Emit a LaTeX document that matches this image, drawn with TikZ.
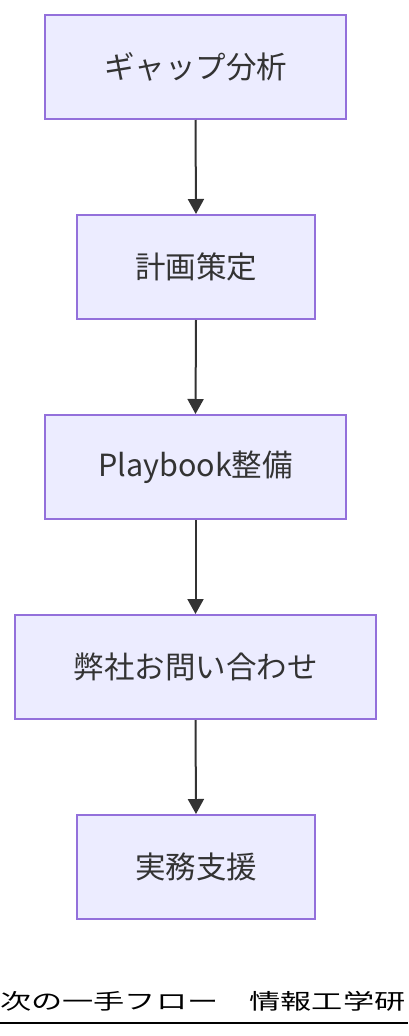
\documentclass[tikz,border=0pt]{standalone}
\usepackage{fontspec}
\setmainfont{Noto Sans CJK JP}
\usetikzlibrary{arrows.meta}
\definecolor{boxfill}{HTML}{ECECFF}
\definecolor{boxline}{HTML}{9370DB}
\definecolor{ink}{HTML}{333333}
\tikzset{
  stepbox/.style={draw=boxline, fill=boxfill, line width=2pt, minimum height=104pt,
    inner sep=0pt, text=ink, font=\fontsize{30.5}{33}\selectfont},
  flow/.style={draw=ink, line width=2pt, -{Triangle[length=15pt,width=16pt]}, shorten >=0pt}
}
\begin{document}
\begin{tikzpicture}[x=1pt,y=-1pt]
\useasboundingbox (0,0) rectangle (408,1036);
\node[stepbox, minimum width=301pt] (a) at (195.5,67) {ギャップ分析};
\node[stepbox, minimum width=238pt] (b) at (196,267) {計画策定};
\node[stepbox, minimum width=301pt] (c) at (195.5,467) {Playbook整備};
\node[stepbox, minimum width=361pt] (d) at (195.5,667) {弊社お問い合わせ};
\node[stepbox, minimum width=238pt] (e) at (196,867) {実務支援};
\draw[flow] (a.south) -- (b.north);
\draw[flow] (b.south) -- (c.north);
\draw[flow] (c.south) -- (d.north);
\draw[flow] (d.south) -- (e.north);
\node[anchor=west, inner sep=0pt, text=black] (t) at (0,1001)
  {\scalebox{1.45}[1]{\fontsize{21.5}{24}\selectfont 次の一手フロー　情報工学研}};
\coordinate (u1) at (0,1023);
\coordinate (u2) at (408,1023);
\draw[line width=2pt, black] (u1) -- (u2);
\end{tikzpicture}
\end{document}
